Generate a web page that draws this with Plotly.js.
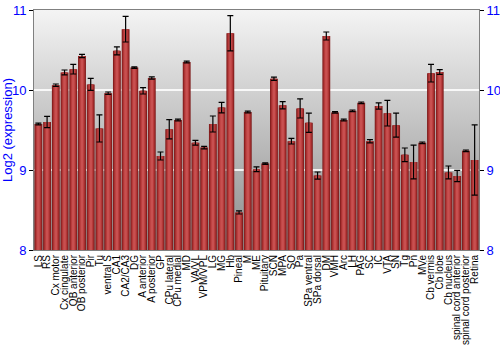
<!DOCTYPE html>
<html>
<head>
<meta charset="utf-8">
<script src="https://cdn.plot.ly/plotly-3.0.1.min.js"></script>
<style>html,body{margin:0;padding:0;background:#fff}#chart{width:500px;height:350px}</style>
</head>
<body>
<div id="chart"></div>
<script>
const categories = ["LS","RS","Cx motor","Cx cingulate","OB anterior","OB posterior","Pir","Tu","ventral S","CA1","CA2/CA3","DG","A anterior","A posterior","GP","CPu lateral","CPu medial","MD","VA/VL","VPM/VPL","LG","MG","Hb","Pineal","M","ME","Pituitary","SCN","MPA","SO","Pa","SPa ventral","SPa dorsal","DM","VMH","Arc","LH","PAG","SC","IC","VTA","SN","Tg","Pn","MVe","Cb vermis","Cb lobe","Cb nucleus","spinal cord anterior","spinal cord posterior","Retina"];
const values = [9.575,9.60,10.06,10.22,10.26,10.425,10.07,9.52,9.96,10.49,10.76,10.28,9.99,10.15,9.175,9.51,9.625,10.35,9.34,9.28,9.575,9.78,10.71,8.47,9.725,9.01,9.08,10.14,9.81,9.36,9.77,9.59,8.93,10.675,9.72,9.625,9.74,9.84,9.36,9.80,9.71,9.56,9.19,9.10,9.34,10.21,10.225,8.97,8.925,9.24,9.125];
const errors = [0.01,0.07,0.015,0.03,0.06,0.02,0.075,0.17,0.015,0.05,0.16,0.01,0.04,0.015,0.05,0.12,0.01,0.01,0.03,0.015,0.10,0.065,0.22,0.02,0.01,0.03,0.01,0.02,0.045,0.035,0.12,0.12,0.045,0.05,0.01,0.01,0.01,0.01,0.02,0.04,0.16,0.15,0.085,0.21,0.01,0.11,0.03,0.08,0.07,0.01,0.44];
const yTicks = [8,9,10,11];

const shades = [
  {w:0.90, c:'#7e1a1a'},
  {w:0.72, c:'#a02c2c'},
  {w:0.52, c:'#b83c3c'},
  {w:0.28, c:'#c85050'}
];
const traces = shades.map((s,i)=>({
  type:'bar', x:categories, y:values, width:s.w,
  marker:{color:s.c, line:{width:0}},
  hoverinfo:'skip', showlegend:false,
  error_y: i===shades.length-1 ? {type:'data', array:errors, visible:true, color:'#000', thickness:1.2, width:3} : {visible:false}
}));
traces.push({type:'scatter', x:[categories[0]], y:[8], yaxis:'y2', mode:'markers', marker:{opacity:0}, showlegend:false, hoverinfo:'skip'});

const grad = '<svg xmlns="http://www.w3.org/2000/svg" width="10" height="100" preserveAspectRatio="none"><defs><linearGradient id="g" x1="0" y1="0" x2="0" y2="1"><stop offset="0" stop-color="#f4f4f4"/><stop offset="1" stop-color="#8c8c8c"/></linearGradient></defs><rect width="10" height="100" fill="url(#g)"/></svg>';

const axisFont = {family:'Arial, "Liberation Sans", sans-serif', size:13, color:'#0000ff'};
const layout = {
  width:500, height:350,
  margin:{l:34, r:21, t:10, b:100},
  paper_bgcolor:'#ffffff', plot_bgcolor:'rgba(0,0,0,0)',
  barmode:'overlay',
  font:{family:'Arial, "Liberation Sans", sans-serif'},
  images:[{source:'data:image/svg+xml;utf8,'+encodeURIComponent(grad), xref:'paper', yref:'paper', x:0, y:1, sizex:1, sizey:1, sizing:'stretch', layer:'below'}],
  xaxis:{type:'category', range:[-0.5, categories.length-0.5], tickmode:'array', tickvals:categories, ticktext:categories,
    tickangle:-90, tickfont:{size:10, color:'#000'}, showline:true, linecolor:'#808080', mirror:true, ticks:'', automargin:false, showgrid:false},
  yaxis:{range:[8,11], tickvals:yTicks, ticks:'outside', ticklen:4, tickcolor:'#000', tickfont:axisFont, showline:true, linecolor:'#808080', gridcolor:'rgba(255,255,255,0.85)', gridwidth:1.5, zeroline:false,
    title:{text:'Log2 (expression)', font:axisFont, standoff:4}, automargin:false},
  yaxis2:{range:[8,11], tickvals:yTicks, overlaying:'y', side:'right', ticks:'outside', ticklen:4, tickcolor:'#000', tickfont:axisFont, showline:true, linecolor:'#808080', showgrid:false, zeroline:false, automargin:false}
};
Plotly.newPlot('chart', traces, layout, {staticPlot:true, displayModeBar:false});
</script>
</body>
</html>
